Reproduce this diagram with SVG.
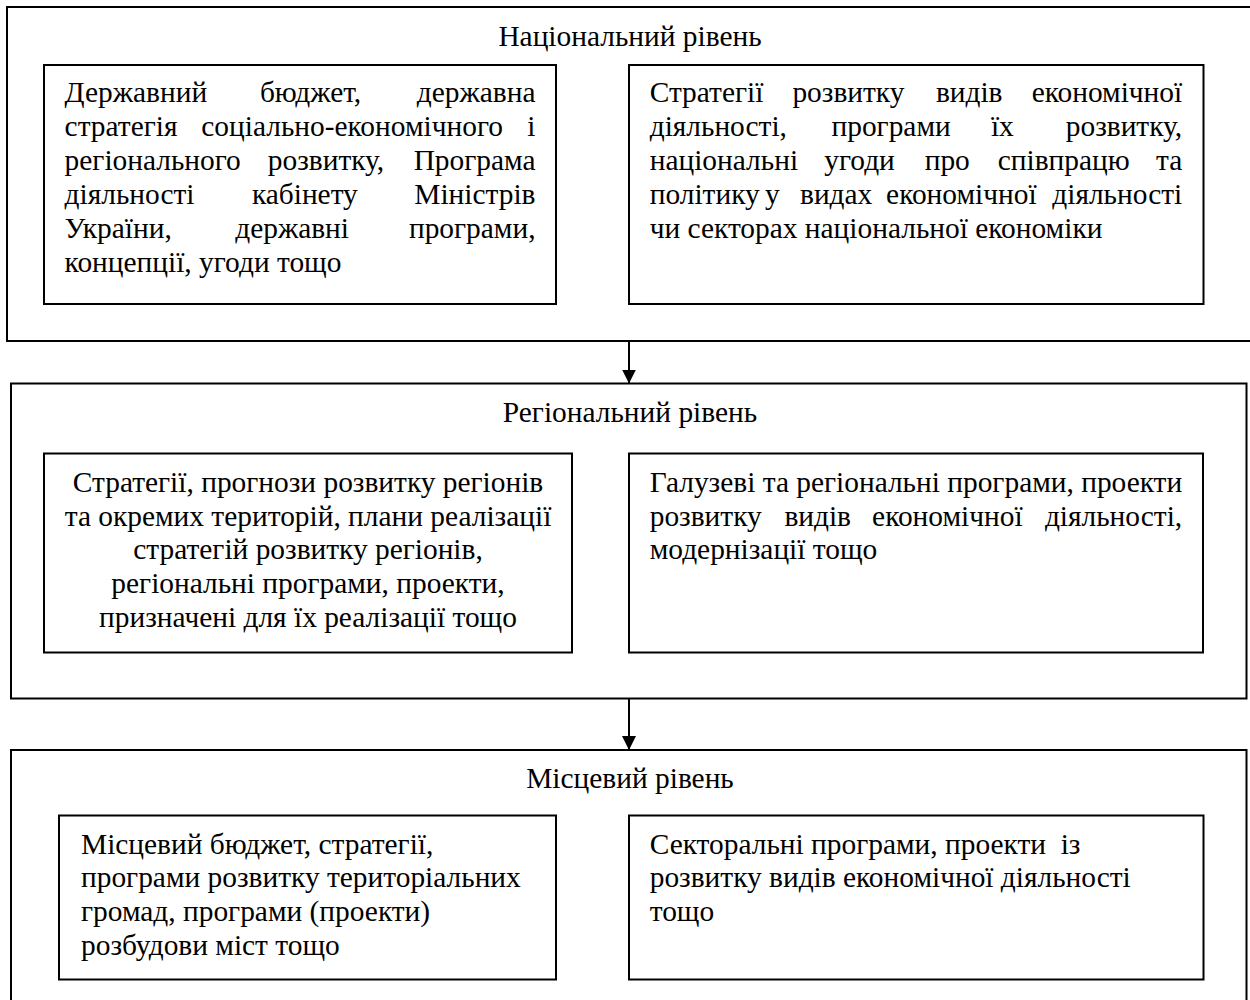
<svg xmlns="http://www.w3.org/2000/svg" width="1250" height="1000" viewBox="0 0 1250 1000">
<style>
  .outer { fill: none; stroke: #000; stroke-width: 2; }
  .inner { fill: none; stroke: #000; stroke-width: 2; }
  text { font-family: "Liberation Serif", "Times New Roman", serif; font-size: 29.4px; fill: #000; }
  .title { text-anchor: middle; }
  .c { text-anchor: middle; }
  .e { text-anchor: end; }
  .conn { stroke: #000; stroke-width: 2; fill: none; }
</style>
<defs>
  <marker id="arrow" viewBox="0 0 14 16" refX="14" refY="8" markerWidth="14" markerHeight="16" markerUnits="userSpaceOnUse" orient="auto">
    <path d="M0,1 L14,8 L0,15 Z" fill="#000"/>
  </marker>
</defs>

<g id="national">
  <rect class="outer" x="7" y="7" width="1260" height="334"/>
  <text class="title" x="630" y="46">Національний рівень</text>
</g>
<g id="national-left">
  <rect class="inner" x="44" y="65" width="512" height="239"/>
  <text y="101.5"><tspan x="64.6">Державний</tspan><tspan x="259.9">бюджет,</tspan><tspan x="535.5" class="e">державна</tspan></text>
  <text y="135.5"><tspan x="64.6">стратегія</tspan><tspan x="201.3">соціально-економічного</tspan><tspan x="535.5" class="e">і</tspan></text>
  <text y="169.5"><tspan x="64.6">регіонального</tspan><tspan x="267.8">розвитку,</tspan><tspan x="535.5" class="e">Програма</tspan></text>
  <text y="203.5"><tspan x="64.6">діяльності</tspan><tspan x="251.9">кабінету</tspan><tspan x="535.5" class="e">Міністрів</tspan></text>
  <text y="237.5"><tspan x="64.6">України,</tspan><tspan x="235.2">державні</tspan><tspan x="535.5" class="e">програми,</tspan></text>
  <text x="64.6" y="271.5">концепції, угоди тощо</text>
</g>
<g id="national-right">
  <rect class="inner" x="629" y="65" width="574.5" height="239"/>
  <text y="101.5"><tspan x="649.7">Стратегії</tspan><tspan x="792.4">розвитку</tspan><tspan x="935.9">видів</tspan><tspan x="1182.2" class="e">економічної</tspan></text>
  <text y="135.5"><tspan x="649.7">діяльності,</tspan><tspan x="831.5">програми</tspan><tspan x="990.9">їх</tspan><tspan x="1182.2" class="e">розвитку,</tspan></text>
  <text y="169.5"><tspan x="649.7">національні</tspan><tspan x="824.3">угоди</tspan><tspan x="924.7">про</tspan><tspan x="997.7">співпрацю</tspan><tspan x="1182.2" class="e">та</tspan></text>
  <text y="203.5"><tspan x="649.7">політику</tspan><tspan x="765">у</tspan><tspan x="800">видах</tspan><tspan x="886.1">економічної</tspan><tspan x="1182.2" class="e">діяльності</tspan></text>
  <text x="649.7" y="237.5">чи секторах національної економіки</text>
</g>

<g id="regional">
  <rect class="outer" x="11" y="383.5" width="1235.5" height="315"/>
  <text class="title" x="630" y="422">Регіональний рівень</text>
</g>
<g id="regional-left">
  <rect class="inner" x="44" y="453.5" width="528" height="199"/>
  <text class="c" x="308" y="492">Стратегії, прогнози розвитку регіонів</text>
  <text class="c" x="308" y="525.5">та окремих територій, плани реалізації</text>
  <text class="c" x="308" y="559">стратегій розвитку регіонів,</text>
  <text class="c" x="308" y="593">регіональні програми, проекти,</text>
  <text class="c" x="308" y="627">призначені для їх реалізації тощо</text>
</g>
<g id="regional-right">
  <rect class="inner" x="629" y="453.5" width="574" height="199"/>
  <text x="649.7" y="492" textLength="532.5" lengthAdjust="spacing">Галузеві та регіональні програми, проекти</text>
  <text y="525.5"><tspan x="649.7">розвитку</tspan><tspan x="784.4">видів</tspan><tspan x="872.1">економічної</tspan><tspan x="1182.2" class="e">діяльності,</tspan></text>
  <text x="649.7" y="559">модернізації тощо</text>
</g>

<g id="local">
  <rect class="outer" x="11" y="750" width="1235.5" height="270"/>
  <text class="title" x="630" y="788">Місцевий рівень</text>
</g>
<g id="local-left">
  <rect class="inner" x="59" y="815.5" width="497" height="164"/>
  <text x="81" y="853.5">Місцевий бюджет, стратегії,</text>
  <text x="81" y="887">програми розвитку територіальних</text>
  <text x="81" y="921">громад, програми (проекти)</text>
  <text x="81" y="955">розбудови міст тощо</text>
</g>
<g id="local-right">
  <rect class="inner" x="629" y="815.5" width="574.5" height="164"/>
  <text x="649.7" y="853.5" xml:space="preserve">Секторальні програми, проекти  із</text>
  <text x="649.7" y="887">розвитку видів економічної діяльності</text>
  <text x="649.7" y="921">тощо</text>
</g>

<g id="connectors">
  <line class="conn" x1="629" y1="342" x2="629" y2="383.5" marker-end="url(#arrow)"/>
  <line class="conn" x1="629" y1="699" x2="629" y2="750" marker-end="url(#arrow)"/>
</g>
</svg>
